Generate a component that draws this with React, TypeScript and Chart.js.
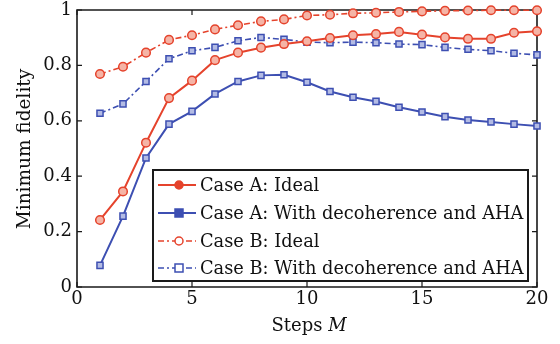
import React, { useEffect, useRef } from 'react';
import { Chart, registerables } from 'chart.js';

Chart.register(...registerables);

const steps = [1, 2, 3, 4, 5, 6, 7, 8, 9, 10, 11, 12, 13, 14, 15, 16, 17, 18, 19, 20];
const caseAIdeal = [0.242, 0.345, 0.521, 0.682, 0.745, 0.819, 0.846, 0.864, 0.877, 0.887, 0.899, 0.909, 0.913, 0.921, 0.911, 0.901, 0.896, 0.896, 0.918, 0.923];
const caseAAHA = [0.078, 0.256, 0.466, 0.588, 0.634, 0.697, 0.742, 0.764, 0.766, 0.739, 0.706, 0.685, 0.670, 0.649, 0.632, 0.615, 0.603, 0.596, 0.588, 0.581];
const caseBIdeal = [0.769, 0.795, 0.846, 0.892, 0.909, 0.930, 0.945, 0.959, 0.966, 0.980, 0.983, 0.988, 0.990, 0.993, 0.995, 0.997, 0.998, 0.999, 0.999, 0.999];
const caseBAHA = [0.627, 0.661, 0.742, 0.824, 0.853, 0.865, 0.889, 0.901, 0.894, 0.884, 0.882, 0.884, 0.882, 0.877, 0.875, 0.865, 0.858, 0.853, 0.844, 0.838];
const seriesLabels = [
  'Case A: Ideal',
  'Case A: With decoherence and AHA',
  'Case B: Ideal',
  'Case B: With decoherence and AHA',
];
const xTickValues = [0, 5, 10, 15, 20];
const yTickValues = [0, 0.2, 0.4, 0.6, 0.8, 1];
const yAxisTitle = 'Minimum fidelity';
const xAxisTitleMain = 'Steps ';
const xAxisTitleVar = 'M';

const RED = '#e5432c';
const BLUE = '#3d4fb2';
const RED_FILL = '#f5b4a6';
const BLUE_FILL = '#b3bbe4';
const FONT = "'DejaVu Serif', serif";
const DASH = [6, 3, 2, 3];

const toPts = (vals: number[]) => vals.map((v, i) => ({ x: steps[i], y: v }));

const framePlugin = {
  id: 'frame',
  beforeDatasetsDraw(chart: any) {
    const { ctx, chartArea: a, scales } = chart;
    ctx.save();
    ctx.strokeStyle = '#1a1a1a';
    ctx.lineWidth = 1.6;
    ctx.beginPath();
    ctx.rect(a.left, a.top, a.right - a.left, a.bottom - a.top);
    ctx.stroke();
    ctx.lineWidth = 1.2;
    const tl = 5;
    ctx.beginPath();
    xTickValues.forEach((v) => {
      const x = scales.x.getPixelForValue(v);
      ctx.moveTo(x, a.bottom);
      ctx.lineTo(x, a.bottom - tl);
      ctx.moveTo(x, a.top);
      ctx.lineTo(x, a.top + tl);
    });
    yTickValues.forEach((v) => {
      const y = scales.y.getPixelForValue(v);
      ctx.moveTo(a.left, y);
      ctx.lineTo(a.left + tl, y);
      ctx.moveTo(a.right, y);
      ctx.lineTo(a.right - tl, y);
    });
    ctx.stroke();

    // axis titles
    ctx.fillStyle = '#111';
    ctx.font = `18px ${FONT}`;
    ctx.textBaseline = 'middle';
    const cx = 309;
    const w1 = ctx.measureText(xAxisTitleMain).width;
    ctx.font = `italic 18px ${FONT}`;
    const w2 = ctx.measureText(xAxisTitleVar).width;
    const sx = cx - (w1 + w2) / 2;
    ctx.font = `18px ${FONT}`;
    ctx.textAlign = 'left';
    ctx.fillText(xAxisTitleMain, sx, 326);
    ctx.font = `italic 18px ${FONT}`;
    ctx.fillText(xAxisTitleVar, sx + w1, 326);

    ctx.save();
    ctx.translate(25, 149);
    ctx.rotate(-Math.PI / 2);
    ctx.font = `18.5px ${FONT}`;
    ctx.textAlign = 'center';
    ctx.fillText(yAxisTitle, 0, 0);
    ctx.restore();
    ctx.restore();
  },
  afterDraw(chart: any) {
    const { ctx } = chart;
    const box = { l: 153, t: 170, r: 528, b: 281 };
    ctx.save();
    ctx.fillStyle = '#ffffff';
    ctx.fillRect(box.l, box.t, box.r - box.l, box.b - box.t);
    ctx.strokeStyle = '#1a1a1a';
    ctx.lineWidth = 2;
    ctx.strokeRect(box.l, box.t, box.r - box.l, box.b - box.t);
    const rows = [185, 213, 241, 268];
    chart.data.datasets.forEach((ds: any, i: number) => {
      const y = rows[i];
      ctx.strokeStyle = ds.borderColor;
      ctx.lineWidth = ds.borderWidth;
      ctx.setLineDash(ds.borderDash || []);
      ctx.beginPath();
      ctx.moveTo(158, y);
      ctx.lineTo(196, y);
      ctx.stroke();
      ctx.setLineDash([]);
      const filled = i < 2;
      ctx.fillStyle = filled ? ds.borderColor : '#ffffff';
      ctx.lineWidth = 1.5;
      ctx.beginPath();
      if (ds.pointStyle === 'rect') {
        ctx.rect(179 - 4, y - 4, 8, 8);
      } else {
        ctx.arc(179, y, 4, 0, Math.PI * 2);
      }
      ctx.fill();
      ctx.stroke();
      ctx.fillStyle = '#111';
      ctx.font = `17.8px ${FONT}`;
      ctx.textAlign = 'left';
      ctx.textBaseline = 'middle';
      ctx.fillText(ds.label, 200, y + 1);
    });
    ctx.restore();
  },
};

export default function App() {
  const ref = useRef<HTMLCanvasElement>(null);
  useEffect(() => {
    if (!ref.current) return;
    const mk = (i: number, vals: number[], color: string, fill: string, style: string, dashed: boolean) => ({
      label: seriesLabels[i],
      data: toPts(vals),
      borderColor: color,
      backgroundColor: fill,
      pointBackgroundColor: fill,
      pointBorderColor: color,
      pointBorderWidth: 1.5,
      pointRadius: 4.3,
      pointStyle: style,
      borderWidth: dashed ? 1.6 : 2,
      borderDash: dashed ? DASH : [],
      tension: 0,
      clip: false,
    });
    const chart = new Chart(ref.current, {
      type: 'line',
      data: {
        datasets: [
          mk(0, caseAIdeal, RED, RED_FILL, 'circle', false),
          mk(1, caseAAHA, BLUE, BLUE_FILL, 'rect', false),
          mk(2, caseBIdeal, RED, RED_FILL, 'circle', true),
          mk(3, caseBAHA, BLUE, BLUE_FILL, 'rect', true),
        ],
      },
      options: {
        animation: false,
        responsive: false,
        devicePixelRatio: 1,
        layout: { padding: { left: 0, top: 10, right: 23, bottom: 0 } },
        plugins: { legend: { display: false }, tooltip: { enabled: false } },
        scales: {
          x: {
            type: 'linear',
            min: 0,
            max: 20,
            afterFit: (s: any) => { s.height = 57; s.paddingLeft = 0; s.paddingRight = 0; },
            afterBuildTicks: (s: any) => { s.ticks = xTickValues.map((v) => ({ value: v })); },
            ticks: { color: '#111', font: { family: FONT, size: 18 }, padding: 2, maxRotation: 0 },
            grid: { display: false, drawTicks: false },
            border: { display: false },
          },
          y: {
            type: 'linear',
            min: 0,
            max: 1,
            afterFit: (s: any) => { s.width = 77; s.paddingTop = 0; s.paddingBottom = 0; },
            afterBuildTicks: (s: any) => { s.ticks = yTickValues.map((v) => ({ value: v })); },
            ticks: {
              color: '#111',
              font: { family: FONT, size: 18 },
              padding: 5,
              callback: (v: any) => (v === 0 || v === 1 ? String(v) : Number(v).toFixed(1)),
            },
            grid: { display: false, drawTicks: false },
            border: { display: false },
          },
        },
      },
      plugins: [framePlugin],
    });
    return () => chart.destroy();
  }, []);
  return (
    <div style={{ position: 'fixed', left: 0, top: 0, width: 560, height: 344, background: '#fff' }}>
      <canvas ref={ref} width={560} height={344} style={{ width: 560, height: 344 }} />
    </div>
  );
}
